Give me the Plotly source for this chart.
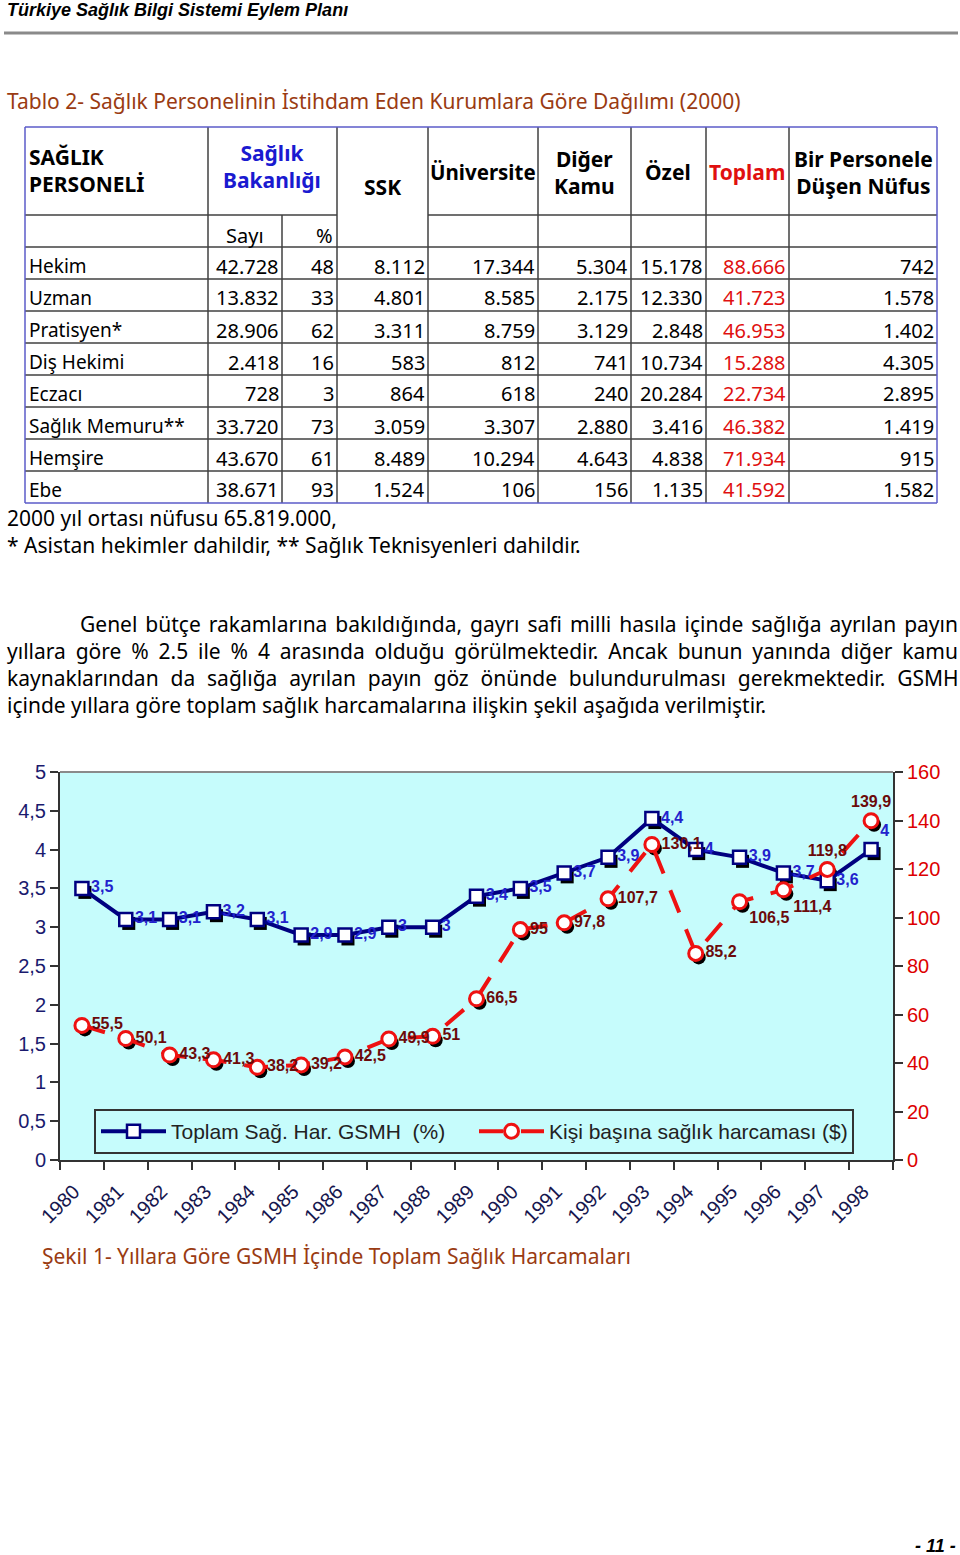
import plotly.graph_objects as go

# ---------------- data ----------------
personel = ["Hekim", "Uzman", "Pratisyen*", "Diş Hekimi", "Eczacı", "Sağlık Memuru**", "Hemşire", "Ebe"]
sb_sayi = [42728, 13832, 28906, 2418, 728, 33720, 43670, 38671]
sb_pct = [48, 33, 62, 16, 3, 73, 61, 93]
ssk = [8112, 4801, 3311, 583, 864, 3059, 8489, 1524]
universite = [17344, 8585, 8759, 812, 618, 3307, 10294, 106]
diger_kamu = [5304, 2175, 3129, 741, 240, 2880, 4643, 156]
ozel = [15178, 12330, 2848, 10734, 20284, 3416, 4838, 1135]
toplam = [88666, 41723, 46953, 15288, 22734, 46382, 71934, 41592]
nufus = [742, 1578, 1402, 4305, 2895, 1419, 915, 1582]

years = ["1980", "1981", "1982", "1983", "1984", "1985", "1986", "1987", "1988", "1989",
         "1990", "1991", "1992", "1993", "1994", "1995", "1996", "1997", "1998"]
gsmh_pct = [3.5, 3.1, 3.1, 3.2, 3.1, 2.9, 2.9, 3.0, 3.0, 3.4, 3.5, 3.7, 3.9, 4.4, 4.0, 3.9, 3.7, 3.6, 4.0]
kisi_basina = [55.5, 50.1, 43.3, 41.3, 38.2, 39.2, 42.5, 49.9, 51.0, 66.5, 95.0, 97.8, 107.7,
               130.1, 85.2, 106.5, 111.4, 119.8, 139.9]

left_tickvals = [0, 0.5, 1, 1.5, 2, 2.5, 3, 3.5, 4, 4.5, 5]
left_ticktext = ["0", "0,5", "1", "1,5", "2", "2,5", "3", "3,5", "4", "4,5", "5"]
right_tickvals = [0, 20, 40, 60, 80, 100, 120, 140, 160]

series_names = ["Toplam Sağ. Har. GSMH  (%)", "Kişi başına sağlık harcaması ($)"]

paragraph = [
    "Genel bütçe rakamlarına bakıldığında, gayrı safi milli hasıla içinde sağlığa ayrılan payın",
    "yıllara göre % 2.5 ile % 4 arasında olduğu görülmektedir. Ancak bunun yanında diğer kamu",
    "kaynaklarından da sağlığa ayrılan payın göz önünde bulundurulması gerekmektedir. GSMH",
    "içinde yıllara göre toplam sağlık harcamalarına ilişkin şekil aşağıda verilmiştir.",
]
# extra word spacing (px) to mimic the justified paragraph
paragraph_spacing = [2.5, 4.4, 6.4, 0]

# ---------------- helpers ----------------
W, H = 960, 1555


def X(px):
    return px / W


def Y(py):
    return 1 - py / H


def fmt(v):
    return f"{v:,}".replace(",", ".")


def lab(v):
    return f"{v:g}".replace(".", ",")


DOC_FONT = "Noto Sans, Open Sans, sans-serif"
ARIAL = "Liberation Sans, Arial, sans-serif"

annotations = []
shapes = []


def text(px, py, t, size=20, color="black", anchor="left", family=DOC_FONT, align="left"):
    annotations.append(dict(x=X(px), y=Y(py), xref="paper", yref="paper", text=t, showarrow=False,
                            xanchor=anchor, yanchor="middle", align=align,
                            font=dict(size=size, color=color, family=family)))


def line(x0, y0, x1, y1, color="#404040", width=1.5):
    shapes.append(dict(type="line", xref="paper", yref="paper", x0=X(x0), y0=Y(y0), x1=X(x1), y1=Y(y1),
                       line=dict(color=color, width=width)))


# ---------------- page header ----------------
text(5, 10, "<b><i>Türkiye Sağlık Bilgi Sistemi Eylem Planı</i></b>", size=18, family=ARIAL)
line(4, 33, 958, 33, color="#8a8a8a", width=3)
text(5, 101, "Tablo 2- Sağlık Personelinin İstihdam Eden Kurumlara Göre Dağılımı (2000)", size=21,
     color="#9a3b12")

# ---------------- table ----------------
col_edges = [25, 208, 282, 337, 428, 538, 631, 706, 789, 937]
t_top, h_row2, t_body, row_h = 127, 215, 247, 32
n_rows = len(personel)
t_bot = t_body + row_h * n_rows

inner = "#404040"
for xe in col_edges[1:-1]:
    ystart = h_row2 if xe == col_edges[2] else t_top
    line(xe, ystart, xe, t_bot, inner)
line(col_edges[0], h_row2, col_edges[3], h_row2, inner)
line(col_edges[4], h_row2, col_edges[-1], h_row2, inner)
for r in range(n_rows):
    yy = t_body + r * row_h
    line(col_edges[0], yy, col_edges[-1], yy, inner)
border = "#5b5bc8"
line(col_edges[0], t_top, col_edges[-1], t_top, border)
line(col_edges[0], t_bot, col_edges[-1], t_bot, border)
line(col_edges[0], t_top, col_edges[0], t_bot, border)
line(col_edges[-1], t_top, col_edges[-1], t_bot, border)

hdr_y = 172
HS = 21
text(27, 171, "<b>SAĞLIK<br>PERSONELİ</b>", size=HS)
text(272, 166, "<b>Sağlık<br>Bakanlığı</b>", size=HS, color="#1a1ad0", anchor="center", align="center")
text(382, 187, "<b>SSK</b>", size=HS, anchor="center")
text(483, hdr_y, "<b>Üniversite</b>", size=20.5, anchor="center")
text(584, hdr_y, "<b>Diğer<br>Kamu</b>", size=HS, anchor="center", align="center")
text(668, hdr_y, "<b>Özel</b>", size=HS, anchor="center")
text(747, hdr_y, "<b>Toplam</b>", size=HS, color="#e01010", anchor="center")
text(863, hdr_y, "<b>Bir Personele<br>Düşen Nüfus</b>", size=HS, anchor="center", align="center")
text(245, 235, "Sayı", size=20, anchor="center")
text(335, 235, "%", size=20, anchor="right")

columns = [sb_sayi, sb_pct, ssk, universite, diger_kamu, ozel, toplam, nufus]
for r in range(n_rows):
    yc = t_body + r * row_h + 19
    text(27, yc, personel[r], size=19)
    for c, col in enumerate(columns):
        color = "#e01010" if col is toplam else "black"
        text(col_edges[c + 2] - 1, yc, fmt(col[r]), size=20, color=color, anchor="right")

text(5, 518, "2000 yıl ortası nüfusu 65.819.000,", size=21)
text(5, 545, "* Asistan hekimler dahildir, ** Sağlık Teknisyenleri dahildir.", size=21)

# ---------------- paragraph ----------------
for i, ln in enumerate(paragraph):
    t = f'<span style="word-spacing:{paragraph_spacing[i]}px">{ln}</span>' if paragraph_spacing[i] else ln
    text(78 if i == 0 else 5, 624 + 27 * i, t, size=21)

# ---------------- chart ----------------
PL, PR, PT, PB = 60, 893, 772, 1160
SX, SY = 3, 4  # shadow offset in px

shapes.append(dict(type="rect", xref="paper", yref="paper", x0=X(PL), x1=X(PR), y0=Y(PB), y1=Y(PT),
                   fillcolor="#c6fcfc", line=dict(width=0), layer="below"))
line(PL, PT, PR, PT, color="#8a8a8a", width=2)

blue_pos = ["middle right"] * 18 + ["top right"]
red_pos = ["middle right"] * 15 + ["bottom right", "bottom right", "top center", "top center"]

fig = go.Figure()
fig.add_trace(go.Scatter(x=years, y=gsmh_pct, mode="markers", xaxis="x", yaxis="y", showlegend=False,
                         marker=dict(symbol="square", size=13, color="black"), hoverinfo="skip",
                         cliponaxis=False))
fig.add_trace(go.Scatter(x=years, y=kisi_basina, mode="markers", xaxis="x", yaxis="y2", showlegend=False,
                         marker=dict(symbol="circle", size=14, color="black"), hoverinfo="skip",
                         cliponaxis=False))
fig.add_trace(go.Scatter(x=years, y=gsmh_pct, name=series_names[0], mode="lines+markers+text",
                         xaxis="x3", yaxis="y3", cliponaxis=False,
                         line=dict(color="#000080", width=4),
                         marker=dict(symbol="square", size=13, color="white", line=dict(color="#000080", width=2.5)),
                         text=[lab(v) for v in gsmh_pct], textposition=blue_pos,
                         textfont=dict(family=ARIAL, size=16, color="#2222cc", weight="bold")))
fig.add_trace(go.Scatter(x=years, y=kisi_basina, name=series_names[1], mode="lines+markers+text",
                         xaxis="x3", yaxis="y4", cliponaxis=False,
                         line=dict(color="#ee1111", width=4, dash="24px,18px"),
                         marker=dict(symbol="circle", size=14, color="white", line=dict(color="#ee1111", width=3)),
                         text=[lab(v) for v in kisi_basina], textposition=red_pos,
                         textfont=dict(family=ARIAL, size=16, color="#6b0a0a", weight="bold")))

main_x_dom = [X(PL), X(PR)]
main_y_dom = [Y(PB), Y(PT)]
sh_x_dom = [X(PL + SX), X(PR + SX)]
sh_y_dom = [Y(PB + SY), Y(PT + SY)]

axis_col = "#333333"
fig.update_layout(
    width=W, height=H, margin=dict(l=0, r=0, t=0, b=0, autoexpand=False),
    paper_bgcolor="white", plot_bgcolor="rgba(0,0,0,0)",
    xaxis=dict(domain=sh_x_dom, anchor="y", type="category", range=[-0.5, 18.5], visible=False),
    yaxis=dict(domain=sh_y_dom, anchor="x", range=[0, 5], visible=False),
    yaxis2=dict(overlaying="y", anchor="x", range=[0, 160], visible=False),
    xaxis3=dict(domain=main_x_dom, anchor="y3", type="category", range=[-0.5, 18.5],
                tickson="boundaries", ticks="outside", ticklen=8, tickwidth=2, tickcolor=axis_col,
                showline=True, linecolor=axis_col, linewidth=2, showgrid=False, tickangle=-45,
                ticklabelstandoff=10, ticklabelshift=-8,
                tickfont=dict(family=ARIAL, size=20, color="#16164e")),
    yaxis3=dict(domain=main_y_dom, anchor="x3", range=[0, 5], tickvals=left_tickvals, ticktext=left_ticktext,
                ticks="outside", ticklen=8, tickwidth=2, tickcolor=axis_col, showline=True,
                linecolor=axis_col, linewidth=2, showgrid=False, zeroline=False,
                tickfont=dict(family=ARIAL, size=20, color="#1a1a6e")),
    yaxis4=dict(overlaying="y3", anchor="x3", side="right", range=[0, 160], tickvals=right_tickvals,
                ticks="outside", ticklen=8, tickwidth=2, tickcolor=axis_col, showline=True,
                linecolor=axis_col, linewidth=2, showgrid=False, zeroline=False,
                tickfont=dict(family=ARIAL, size=20, color="#dd0000")),
    showlegend=True,
    legend=dict(x=X(94), y=Y(1109), xanchor="left", yanchor="top", orientation="h",
                bgcolor="#c6fcfc", bordercolor="#333333", borderwidth=2,
                font=dict(family=ARIAL, size=21, color="#222222"),
                entrywidth=298, entrywidthmode="pixels", itemwidth=65),
    shapes=shapes, annotations=annotations,
)

fig.add_annotation(x=X(40), y=Y(1256), xref="paper", yref="paper", showarrow=False, xanchor="left",
                   yanchor="middle", text="Şekil 1- Yıllara Göre GSMH İçinde Toplam Sağlık Harcamaları",
                   font=dict(family=DOC_FONT, size=21, color="#9a3b12"))
fig.add_annotation(x=X(958), y=Y(1546), xref="paper", yref="paper", showarrow=False, xanchor="right",
                   yanchor="middle", text="<b><i>- 11 -</i></b>",
                   font=dict(family=ARIAL, size=18, color="black"))

fig.write_html("out.html", config={"responsive": False, "displayModeBar": False},
               post_script="document.body.style.margin='0';document.body.style.overflow='hidden';")
